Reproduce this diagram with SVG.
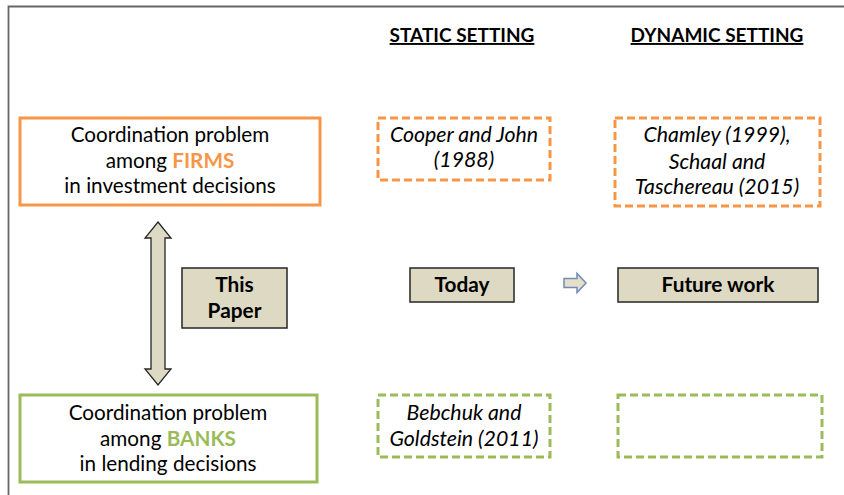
<svg xmlns="http://www.w3.org/2000/svg" width="844" height="495" viewBox="0 0 844 495">
<style>
text{font-family:Lato,"Open Sans","Liberation Sans",sans-serif;fill:#000;text-anchor:middle}
.t{font-size:20.7px}
.i{font-size:21.3px;font-style:italic}
.b{font-size:20.8px;font-weight:bold}
.h{font-size:19px;font-weight:bold;text-decoration:underline}
.solidO{fill:#fff;stroke:#F79646;stroke-width:3}
.solidG{fill:#fff;stroke:#9BBB59;stroke-width:3}
.dashO{fill:#fff;stroke:#F79646;stroke-width:3;stroke-dasharray:8 4}
.dashG{fill:#fff;stroke:#9BBB59;stroke-width:3;stroke-dasharray:8 4}
.tan{fill:#DDD9C3;stroke:#262626;stroke-width:1.5}
</style>
<rect width="844" height="495" fill="#fff"/>
<path d="M8.5,495 V6.5 H844" fill="none" stroke="#666" stroke-width="1.8"/>
<g id="headers">
<text class="h" x="462" y="42">STATIC SETTING</text>
<text class="h" x="717" y="42">DYNAMIC SETTING</text>
</g>
<g id="firms">
<rect class="solidO" x="20" y="118" width="300" height="87"/>
<text class="t" x="170" y="142">Coordination problem</text>
<text class="t" x="170" y="168">among <tspan style="fill:#F79646;font-weight:bold">FIRMS</tspan></text>
<text class="t" x="170" y="193">in investment decisions</text>
</g>
<g id="cooper">
<rect class="dashO" x="378" y="118" width="172" height="62"/>
<text class="i" x="464" y="142">Cooper and John</text>
<text class="i" x="464" y="167">(1988)</text>
</g>
<g id="chamley">
<rect class="dashO" x="615" y="118" width="205" height="88"/>
<text class="i" x="717" y="142">Chamley (1999),</text>
<text class="i" x="717" y="169">Schaal and</text>
<text class="i" x="717" y="194">Taschereau (2015)</text>
</g>
<g id="connectors">
<path d="M158,222 L171,238 L165,238 L165,369 L171,369 L158,385 L145,369 L151,369 L151,238 L145,238 Z" fill="#DDD9C3" stroke="#262626" stroke-width="1.3" stroke-linejoin="miter"/>
<path d="M564,278.5 H577 V273.5 L586,283 L577,292.5 V287.5 H564 Z" fill="#E4DFC9" stroke="#6F8DB5" stroke-width="1.5"/>
</g>
<g id="thispaper">
<rect class="tan" x="182" y="268" width="105" height="60"/>
<text class="b" x="234.5" y="292">This</text>
<text class="b" x="234.5" y="318">Paper</text>
</g>
<g id="today">
<rect class="tan" x="410" y="268" width="104" height="34"/>
<text class="b" x="462" y="292">Today</text>
</g>
<g id="future">
<rect class="tan" x="618" y="268" width="200" height="34"/>
<text class="b" x="718" y="292">Future work</text>
</g>
<g id="banks">
<rect class="solidG" x="20" y="395" width="297" height="87"/>
<text class="t" x="168" y="420">Coordination problem</text>
<text class="t" x="168" y="446">among <tspan style="fill:#9BBB59;font-weight:bold">BANKS</tspan></text>
<text class="t" x="168" y="471">in lending decisions</text>
</g>
<g id="bebchuk">
<rect class="dashG" x="378" y="395" width="172" height="62"/>
<text class="i" x="464" y="420">Bebchuk and</text>
<text class="i" x="464" y="446">Goldstein (2011)</text>
</g>
<g id="empty">
<rect class="dashG" x="618" y="395" width="204" height="62"/>
</g>
</svg>
